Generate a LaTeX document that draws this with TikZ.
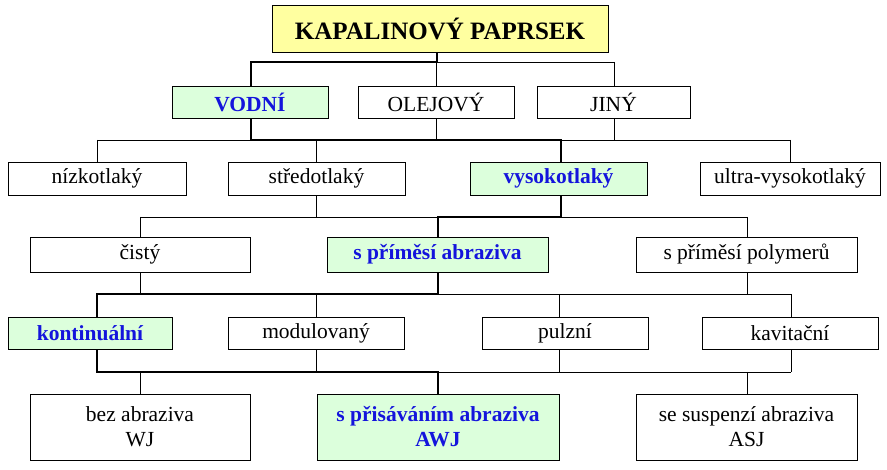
\documentclass[tikz,border=0pt]{standalone}
\usepackage{fontspec}
\setmainfont{Liberation Serif}
\definecolor{gfill}{RGB}{220,255,220}
\definecolor{yfill}{RGB}{255,255,160}
\definecolor{tblue}{RGB}{20,20,220}
\begin{document}
\begin{tikzpicture}[x=1pt,y=-1pt,
  bx/.style={draw,line width=0.8pt,fill=white,inner sep=0pt,font=\fontsize{21.5}{25}\selectfont,align=center},
  hl/.style={bx,fill=gfill,text=tblue,font=\fontsize{21.5}{25}\selectfont\bfseries},
  thin/.style={line width=0.8pt},
  thick/.style={line width=2.6pt}]
\useasboundingbox (0,0) rectangle (887,470);
\newcommand\mybox[7]{\node[#1,minimum width=#4-#2,minimum height=#5-#3] (#6) at ({(#2+#4)/2},{(#3+#5)/2}) {#7};}
% connectors (thin)
\draw[thin] (250,62) -- (614,62) (436,62) -- (436,86) (614,62) -- (614,86);
\draw[thin] (97,140) -- (790,140) (97,140) -- (97,162) (316,140) -- (316,162) (790,140) -- (790,162) (436,118) -- (436,140) (614,118) -- (614,140);
\draw[thin] (140,217) -- (747,217) (140,217) -- (140,237) (747,217) -- (747,237) (316,195) -- (316,217);
\draw[thin] (97,294) -- (791,294) (316,294) -- (316,317) (559,294) -- (559,317) (791,294) -- (791,317) (140,272) -- (140,294) (747,272) -- (747,294);
\draw[thin] (97,372) -- (791,372) (140,372) -- (140,394) (747,372) -- (747,394) (316,349) -- (316,372) (559,349) -- (559,372) (791,349) -- (791,372);
% boxes
\node[draw,line width=0.8pt,fill=yfill,minimum width=336,minimum height=47,inner sep=0pt,font=\fontsize{25}{27}\selectfont\bfseries] (top) at (440,28.5) {KAPALINOVÝ PAPRSEK};
\mybox{hl}{172}{86}{328}{118}{vod}{VODNÍ}
\mybox{bx}{358}{86}{514}{118}{ole}{OLEJOVÝ}
\mybox{bx}{537}{86}{690}{118}{jin}{JINÝ}
\mybox{bx}{8}{162}{186}{195}{niz}{nízkotlaký}
\mybox{bx}{228}{162}{405}{195}{str}{středotlaký}
\mybox{hl}{470}{162}{647}{195}{vys}{vysokotlaký}
\mybox{bx}{700}{162}{880}{195}{ult}{ultra-vysokotlaký}
\mybox{bx}{30}{237}{250}{272}{cis}{čistý}
\mybox{hl}{327}{237}{548}{272}{abr}{s příměsí abraziva}
\mybox{bx}{636}{237}{857}{272}{pol}{s příměsí polymerů}
\mybox{hl}{8}{317}{172}{349}{kon}{kontinuální}
\mybox{bx}{228}{317}{404}{349}{mod}{modulovaný}
\mybox{bx}{482}{317}{648}{349}{pul}{pulzní}
\mybox{bx}{702}{317}{878}{349}{kav}{kavitační}
\mybox{bx}{30}{394}{250}{460}{wj}{bez abraziva\\WJ}
\mybox{hl}{317}{394}{559}{460}{awj}{s přisáváním abraziva\\AWJ}
\mybox{bx}{636}{394}{857}{460}{asj}{se suspenzí abraziva\\ASJ}
% thick path
\draw[thick] (top.south -| 437,0) |- (251,62) -- (vod.north -| 251,0);
\draw[thick] (vod.south -| 251,0) |- (561,140) -- (vys.north -| 561,0);
\draw[thick] (vys.south -| 561,0) |- (438,217) -- (abr.north -| 438,0);
\draw[thick] (abr.south -| 438,0) |- (97,294) -- (kon.north -| 97,0);
\draw[thick] (kon.south -| 97,0) |- (438,372) -- (awj.north -| 438,0);
\end{tikzpicture}
\end{document}
